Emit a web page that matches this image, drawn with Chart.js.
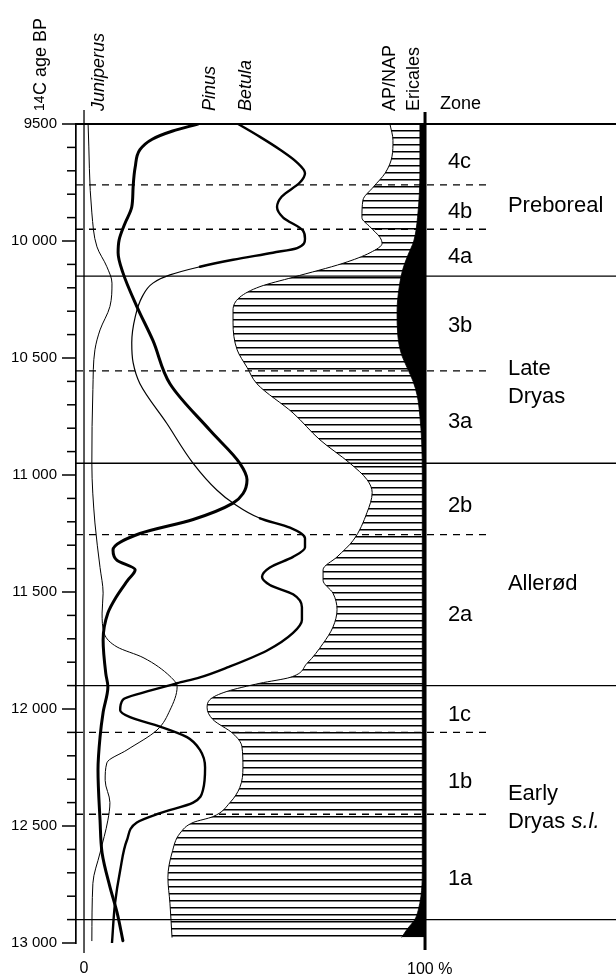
<!DOCTYPE html>
<html lang="en">
<head>
<meta charset="utf-8">
<title>Pollen diagram, 14C age BP</title>
<script src="https://cdn.jsdelivr.net/npm/chart.js@4.4.1/dist/chart.umd.min.js"></script>
<style>
  html, body { margin: 0; padding: 0; background: #fff; }
  #wrap { width: 616px; height: 976px; }
</style>
</head>
<body>
<div id="wrap"><canvas id="diagram"></canvas></div>
<script>
// Curves: age in 14C years BP, value in percent
const pinusAge = [9500, 9530, 9565, 9610, 9685, 9770, 9855, 9925, 9995, 10050,
    10135, 10280, 10425, 10610, 10810, 10950, 11020, 11080, 11120, 11190,
    11250, 11320, 11365, 11405, 11450, 11520, 11590, 11705, 11850, 11905,
    12015, 12120, 12260, 12475, 12615, 12760, 12870, 12990];
const pinusPct = [33.4, 26, 20, 16.4, 15, 14.4, 14, 12, 10.3, 10,
    11.4, 15.5, 20.2, 25.2, 37, 45.7, 47.8, 46.6, 43.7, 32,
    16.4, 8.5, 9.7, 15, 12.8, 9.5, 7, 5.6, 6.4, 7,
    5.6, 4.7, 4.1, 4.7, 5.3, 7.6, 9.7, 11.4];

const betulaAge = [9500, 9555, 9610, 9665, 9710, 9750, 9810, 9855, 9900, 9955,
    9990, 10030, 10050, 10080, 10110, 10145, 10180, 10240, 10325, 10435,
    10520, 10610, 10780, 10950, 11065, 11120, 11185, 11225, 11270, 11310,
    11350, 11395, 11435, 11470, 11510, 11565, 11620, 11675, 11750, 11820,
    11865, 11890, 11930, 11960, 12005, 12035, 12075, 12120, 12175, 12250,
    12345, 12400, 12445, 12485, 12560, 12690, 12830, 13000];
const betulaPct = [45.2, 51.6, 57.5, 62.5, 64.8, 63.3, 58, 56.6, 58.4, 64.2,
    64.8, 62.5, 55.4, 43.7, 34, 25.2, 20.2, 17, 15, 14,
    14.4, 16.4, 24.3, 32, 39, 43.7, 51.6, 60.4, 64.8, 64.8,
    61.3, 54.5, 52.2, 54.5, 61.3, 63.9, 63.9, 61.3, 53.7, 42.5,
    34, 27.3, 17.3, 11.4, 10.6, 13.5, 22.3, 30.2, 34, 35.5,
    34.9, 32, 22.3, 15.5, 12.6, 10.6, 9.1, 8.2];
// stretch where the Betula curve is drawn with a fine pen
const betulaThin = [10110, 11185];

const juniperusAge = [9500, 9880, 10025, 10110, 10180, 10280, 10380, 10465, 10635, 10950,
    11205, 11395, 11505, 11590, 11680, 11735, 11780, 11860, 11905, 12005,
    12090, 12175, 12230, 12305, 12400, 12475, 12615, 12745, 12990];
const juniperusPct = [1.2, 2.3, 3.8, 6.7, 8.2, 7.6, 4.7, 3.2, 2.6, 2.3,
    3.2, 4.7, 5.6, 5.3, 6, 9.7, 17.3, 25.2, 27.3, 25.2,
    21.4, 12.6, 6.7, 6.2, 7.6, 7, 4.7, 2.6, 2.3];

const apNapAge = [9500, 9570, 9640, 9710, 9770, 9825, 9900, 9940, 9985, 10010,
    10050, 10095, 10155, 10195, 10240, 10295, 10350, 10465, 10540, 10610,
    10735, 10850, 10950, 11020, 11075, 11160, 11280, 11350, 11405, 11450,
    11505, 11575, 11650, 11720, 11805, 11865, 11890, 11925, 11960, 11995,
    12045, 12105, 12160, 12250, 12335, 12400, 12460, 12485, 12530, 12615,
    12720, 12830, 12975];
const apNapPct = [89.7, 90.6, 90.3, 88.3, 84.8, 81.8, 81.5, 83.9, 86.8, 87.4,
    83.9, 76, 61.3, 51.6, 45.7, 43.7, 43.7, 44.9, 47.8, 50.7,
    61.3, 69.2, 78, 83, 84.5, 83, 78.9, 74.2, 70.1, 70.1,
    73, 74.2, 73, 70.1, 65.4, 60.4, 51.6, 41.9, 36.9, 36.1,
    37.8, 43.7, 46.3, 46.6, 45.7, 42.8, 37.8, 32, 28.2, 25.8,
    24.6, 25.2, 25.8];

// Ericales is plotted from the 100 % side
const ericalesAge = [9500, 9700, 9900, 10000, 10060, 10120, 10200, 10300, 10400, 10480,
    10540, 10600, 10660, 10750, 10850, 11000, 12700, 12800, 12860, 12900,
    12940, 12975];
const ericalesPct = [1.5, 1.5, 2.2, 3.3, 5, 6.5, 7.6, 8.2, 8, 7,
    5.3, 3.5, 2.3, 1.5, 1, 0.8, 0.8, 1.2, 2, 3,
    5.2, 6.8];

// Zonation
const zoneBounds = [9500, 10150, 10950, 11900, 12900];
const subzoneBounds = [9760, 9950, 10555, 11255, 12100, 12450];
const zoneLabels = ['4c', '4b', '4a', '3b', '3a', '2b', '2a', '1c', '1b', '1a'];
const zoneLabelAges = [9652, 9868, 10058, 10356, 10763, 11126, 11588, 12015, 12305, 12720];
const periodLabels = [['Preboreal'], ['Late', 'Dryas'], ['Allerød'], ['Early', 'Dryas s.l.']];
const periodLabelAges = [9843, 10598, 11457, 12415];
const headerLabels = ['Juniperus', 'Pinus', 'Betula', 'AP/NAP', 'Ericales'];

const ageMin = 9500, ageMax = 13000, ageStep = 100, ageLabelStep = 500;

// layout, x given in percent units of the diagram
const FONT = '"Liberation Sans", Arial, Helvetica, sans-serif';
const headerX = [6.0, 38.4, 49.0, 91.2, 98.2];
const headerItalic = [true, true, true, false, false];
const ageTitleX = -11.1;
const zoneHeadX = 104.4;
const zoneLabelX = 106.7;
const periodLabelX = 124.3;
const dashEndX = 119;

function fmtAge(v) {
    if (v < 10000) return String(v);
    return Math.floor(v / 1000) + ' ' + String(v % 1000).padStart(3, '0');
}

// text reading bottom to top, baseline at x
function vText(ctx, text, x, y, font) {
    ctx.save();
    ctx.translate(x, y);
    ctx.rotate(-Math.PI / 2);
    ctx.font = font;
    ctx.textAlign = 'left';
    ctx.textBaseline = 'alphabetic';
    ctx.fillText(text, 0, 0);
    ctx.restore();
}

// "s.l." is set in italics
function periodText(ctx, text, x, y) {
    const m = text.match(/^(.*?)(s\.l\.)?$/);
    ctx.font = '22px ' + FONT;
    ctx.fillText(m[1], x, y);
    if (m[2]) {
        const w = ctx.measureText(m[1]).width;
        ctx.font = 'italic 22px ' + FONT;
        ctx.fillText(m[2], x + w, y);
    }
}

const decorations = {
    id: 'decorations',
    afterDatasetsDraw(chart) {
        const {ctx, chartArea: area, scales} = chart;
        const px = v => scales.x.getPixelForValue(v);
        const py = v => scales.y.getPixelForValue(v);
        const seg = (x1, y1, x2, y2) => {
            ctx.beginPath(); ctx.moveTo(x1, y1); ctx.lineTo(x2, y2); ctx.stroke();
        };

        ctx.save();
        ctx.strokeStyle = '#000';
        ctx.fillStyle = '#000';

        // age ticks, the labelled ones longer
        ctx.lineWidth = 1.5;
        scales.y.ticks.forEach(t => {
            const len = t.value % ageLabelStep === 0 ? 14 : 9;
            seg(area.left - len, py(t.value), area.left, py(t.value));
        });

        // zone boundaries, the top one a little heavier
        zoneBounds.forEach((a, i) => {
            ctx.lineWidth = i === 0 ? 1.8 : 1.4;
            seg(area.left, py(a), area.right, py(a));
        });
        ctx.lineWidth = 1.4;
        ctx.setLineDash([7, 6]);
        subzoneBounds.forEach(a => seg(area.left, py(a), px(dashEndX), py(a)));
        ctx.setLineDash([]);

        // 0 % and 100 % lines
        ctx.lineWidth = 1.3;
        seg(px(0), area.top - 14, px(0), area.bottom + 10);
        ctx.lineWidth = 3;
        seg(px(100), area.top - 12, px(100), area.bottom + 7);

        // column headings
        headerLabels.forEach((txt, i) => {
            vText(ctx, txt, px(headerX[i]), area.top - 13,
                (headerItalic[i] ? 'italic ' : '') + '18px ' + FONT);
        });
        ctx.save();
        ctx.translate(px(ageTitleX), area.top - 13);
        ctx.rotate(-Math.PI / 2);
        ctx.textBaseline = 'alphabetic';
        ctx.font = '14px ' + FONT;
        ctx.fillText('14', 0, -2);
        const w14 = ctx.measureText('14').width;
        ctx.font = '18px ' + FONT;
        ctx.fillText('C age BP', w14 + 0.5, 0);
        ctx.restore();

        // zones
        ctx.textAlign = 'left';
        ctx.textBaseline = 'alphabetic';
        ctx.font = '18px ' + FONT;
        ctx.fillText('Zone', px(zoneHeadX), area.top - 15.5);
        ctx.font = '22px ' + FONT;
        zoneLabels.forEach((t, i) => ctx.fillText(t, px(zoneLabelX), py(zoneLabelAges[i]) + 8));
        periodLabels.forEach((lines, i) => {
            const c = py(periodLabelAges[i]);
            lines.forEach((ln, j) => {
                periodText(ctx, ln, px(periodLabelX), c + (j - (lines.length - 1) / 2) * 28 + 8);
            });
        });

        // percent scale
        ctx.font = '16px ' + FONT;
        ctx.textAlign = 'center';
        ctx.fillText('0', px(0), area.bottom + 30);
        ctx.textAlign = 'left';
        ctx.fillText('100 %', px(100) - 18, area.bottom + 31);
        ctx.restore();
    }
};

const ctx2d = document.getElementById('diagram').getContext('2d');

// horizontal hatching for the AP/NAP area
const hatchTile = document.createElement('canvas');
hatchTile.width = 8;
hatchTile.height = 7;
const ht = hatchTile.getContext('2d');
ht.fillStyle = '#000';
ht.fillRect(0, 4, 8, 1);
ht.fillStyle = 'rgba(0,0,0,0.5)';
ht.fillRect(0, 5, 8, 1);
const hatch = ctx2d.createPattern(hatchTile, 'repeat');

const toPoints = (ages, vals) => ages.map((a, i) => ({x: vals[i], y: a}));
const fromRight = (ages, vals) => ages.map((a, i) => ({x: 100 - vals[i], y: a}));

const curve = {
    borderColor: '#000',
    pointRadius: 0,
    fill: false,
    cubicInterpolationMode: 'monotone',
    borderCapStyle: 'round',
    borderJoinStyle: 'round'
};

new Chart(ctx2d, {
    type: 'line',
    data: {
        datasets: [
            Object.assign({}, curve, {label: 'Pinus', data: toPoints(pinusAge, pinusPct), borderWidth: 3}),
            Object.assign({}, curve, {
                label: 'Betula', data: toPoints(betulaAge, betulaPct), borderWidth: 2.4,
                segment: {
                    borderWidth: c => (betulaAge[c.p0DataIndex] >= betulaThin[0] &&
                        betulaAge[c.p1DataIndex] <= betulaThin[1]) ? 1.2 : 2.4
                }
            }),
            Object.assign({}, curve, {label: 'Juniperus', data: toPoints(juniperusAge, juniperusPct), borderWidth: 1}),
            Object.assign({}, curve, {
                label: 'Ericales', data: fromRight(ericalesAge, ericalesPct), borderWidth: 0.8,
                backgroundColor: '#000', fill: {value: 100}
            }),
            Object.assign({}, curve, {
                label: 'AP/NAP', data: toPoints(apNapAge, apNapPct), borderWidth: 1,
                backgroundColor: hatch, fill: {value: 100}
            })
        ]
    },
    options: {
        responsive: true,
        maintainAspectRatio: false,
        animation: false,
        indexAxis: 'y',
        layout: {padding: {top: 124, bottom: 33, left: 0, right: 0}, autoPadding: false},
        plugins: {legend: {display: false}, tooltip: {enabled: false}},
        scales: {
            x: {type: 'linear', min: -2.35, max: 156, display: false},
            y: {
                type: 'linear',
                reverse: true,
                min: ageMin,
                max: ageMax,
                afterFit: s => { s.width = 76; },
                grid: {display: false, drawTicks: false},
                border: {display: true, color: '#000', width: 1.7},
                ticks: {
                    stepSize: ageStep,
                    autoSkip: false,
                    padding: 19,
                    color: '#000',
                    font: {family: FONT, size: 15},
                    callback: v => v % ageLabelStep === 0 ? fmtAge(v) : ''
                }
            }
        }
    },
    plugins: [decorations]
});
</script>
</body>
</html>
